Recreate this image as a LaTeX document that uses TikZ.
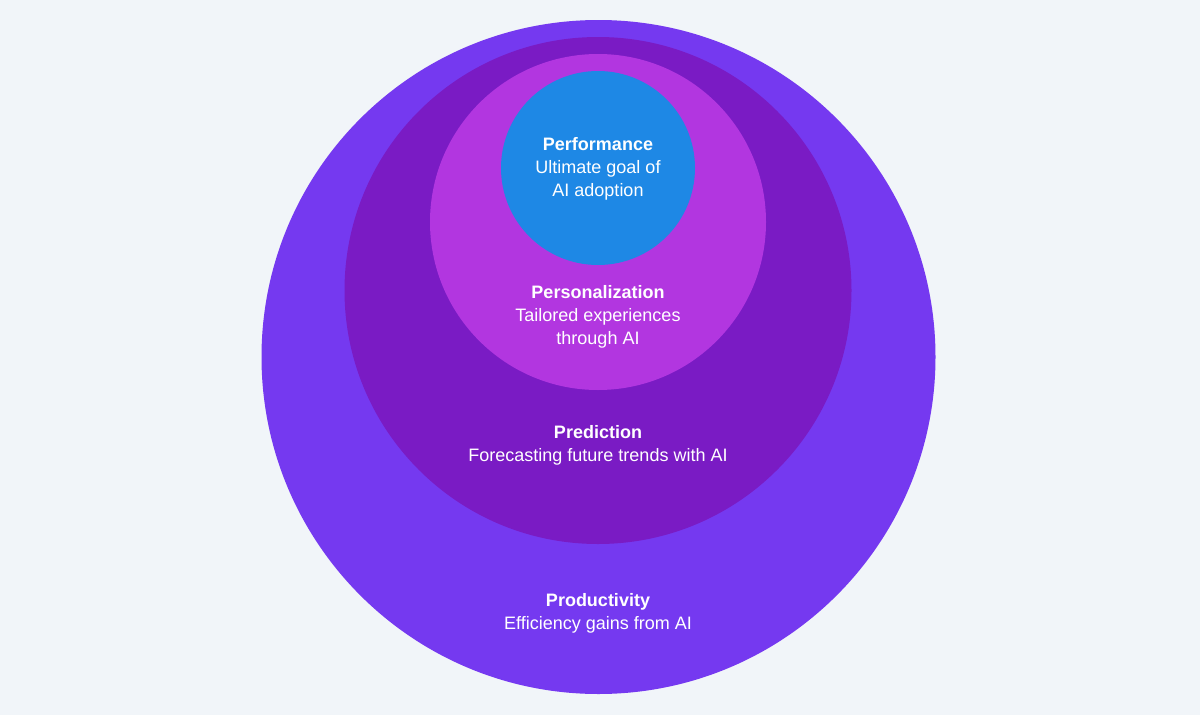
\documentclass[tikz,border=0pt]{standalone}
\usepackage{fontspec}
\setmainfont{Liberation Sans}
\definecolor{bg}{HTML}{F1F5F9}
\definecolor{c1}{HTML}{7539F0}
\definecolor{c2}{HTML}{7A1BC4}
\definecolor{c3}{HTML}{B236E0}
\definecolor{c4}{HTML}{1E88E5}
\begin{document}
\begin{tikzpicture}[x=1pt,y=-1pt,
  lbl/.style={text=white,align=center,font=\fontsize{18}{23}\selectfont}]
\fill[bg] (0,0) rectangle (1200,715);
\useasboundingbox (0,0) rectangle (1200,715);
\fill[c1] (598.5,357) circle (337);
\fill[c2] (598,290.5) circle (253.5);
\fill[c3] (598,222) circle (168);
\fill[c4] (598,168) circle (97);
\node[lbl] (perf) at (598,169) {\textbf{Performance}\\Ultimate goal of\\AI adoption};
\node[lbl] (pers) at (598,317) {\textbf{Personalization}\\Tailored experiences\\through AI};
\node[lbl] (pred) at (598,445) {\textbf{Prediction}\\Forecasting future trends with AI};
\node[lbl] (prod) at (598,613) {\textbf{Productivity}\\Efficiency gains from AI};
\end{tikzpicture}
\end{document}
